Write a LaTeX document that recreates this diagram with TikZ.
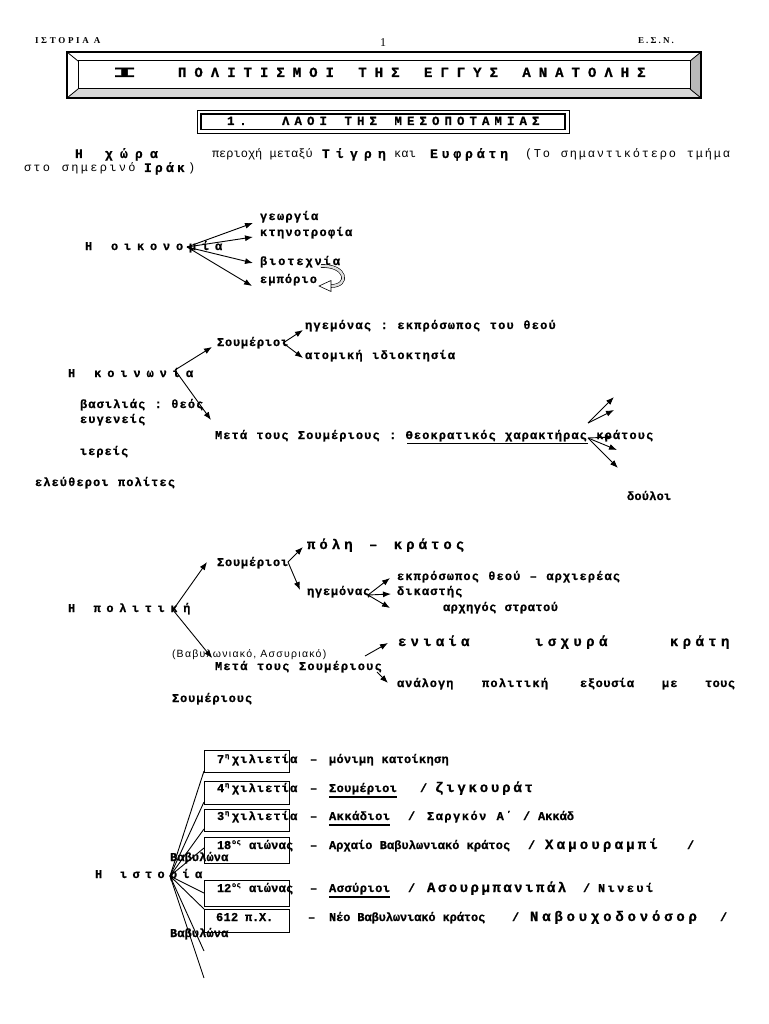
\documentclass[tikz,border=0pt]{standalone}
\usepackage{fontspec}
\usepackage{graphicx}
\setmainfont{Liberation Mono}
\newfontfamily\hserif{Liberation Serif}
\newfontfamily\hsans{Liberation Sans}
\usetikzlibrary{arrows.meta}
\ExplSyntaxOn
\NewDocumentCommand\A{mmm}{
  \fontsize{#1}{#1}\selectfont
  \dim_set:Nn \l_tmpa_dim {#2pt}
  \tl_map_inline:nn {#3} { \makebox[\l_tmpa_dim][l]{##1} }
}
\ExplSyntaxOff
\newcommand\Sup[1]{\raisebox{5pt}{\A{7}{4.6}{#1}}}
\tikzset{
  t/.style={anchor=base west, inner sep=0pt, outer sep=0pt, font={\bfseries\addfontfeature{FakeBold=0.8}}},
  tr/.style={anchor=base west, inner sep=0pt, outer sep=0pt, font=\mdseries},
  arr/.style={-{Latex[length=8pt,width=6pt]}, line width=0.9pt},
  ln/.style={line width=0.9pt},
  ybox/.style={draw, line width=1pt, minimum width=85pt, anchor=north west, inner sep=0pt},
  uline/.style={line width=1.6pt}
}
\begin{document}
\begin{tikzpicture}[x=1pt,y=-1pt]
\useasboundingbox (0,0) rectangle (768,1024);
\fill[white] (0,0) rectangle (768,1024);

% ---------- header ----------
\node[tr, font=\hserif\bfseries] (hdrL) at (35,44) {\fontsize{9}{9}\selectfont\addfontfeature{LetterSpace=30}ΙΣΤΟΡΙΑ Α};
\node[tr, font=\hserif] (hdrN) at (380,47) {\fontsize{12}{12}\selectfont 1};
\node[tr, font=\hserif\bfseries] (hdrR) at (638,44) {\fontsize{9}{9}\selectfont\addfontfeature{LetterSpace=24}Ε.Σ.Ν.};

% ---------- title frame ----------
\fill[gray!30] (67,98) -- (78,89) -- (690,89) -- (701,98) -- cycle;
\fill[gray!55] (701,52) -- (690,61) -- (690,89) -- (701,98) -- cycle;
\draw[line width=1pt] (78,61) rectangle (690,89);
\draw[line width=0.8pt] (67,52) -- (78,61) (701,52) -- (690,61) (67,98) -- (78,89) (701,98) -- (690,89);
\draw[line width=2pt] (67,52) rectangle (701,98);
\node[t] (tI) at (112,77) {\fontsize{14}{14}\selectfont\scalebox{3}[1]{I}};
\node[t] (tT) at (178,77) {\A{14}{16.4}{ΠΟΛΙΤΙΣΜΟΙ~ΤΗΣ~ΕΓΓΥΣ~ΑΝΑΤΟΛΗΣ}};

% ---------- section frame ----------
\draw[line width=0.8pt] (197,110) rectangle (569,133);
\draw[line width=1.6pt] (201,113.8) rectangle (565,129.4);
\node[t] (sN) at (227,125) {\A{12.5}{12.3}{1.}};
\node[t] (sT) at (282,125) {\A{12.5}{12.5}{ΛΑΟΙ~ΤΗΣ~ΜΕΣΟΠΟΤΑΜΙΑΣ}};

% ---------- country ----------
\node[t] (xHora) at (75,158) {\A{13}{15}{Η~χώρα}};
\node[tr] (xPer) at (212,158) {\A{12}{7.2}{περιοχή~μεταξύ}};
\node[t] (xTig) at (322,158) {\A{13}{14}{Τίγρη}};
\node[tr] (xKai) at (394,158) {\A{12}{7.5}{και}};
\node[t] (xEuf) at (430,158) {\A{13}{11.7}{Ευφράτη}};
\node[tr] (xTo) at (525,158) {\A{12}{9}{(Το~σημαντικότερο~τμήμα}};
\node[tr] (xSto) at (24,172) {\A{12}{9.5}{στο~σημερινό}};
\node[t] (xIrak) at (144,172) {\A{13}{11}{Ιράκ}};
\node[tr] (xPar) at (188,172) {\A{12}{7.2}{)}};

% ---------- economy ----------
\node[t] (oik) at (85,250) {\A{12}{13}{Η~οικονομία}};
\node[t] (geo) at (260,220) {\A{12}{8.5}{γεωργία}};
\node[t] (kti) at (260,236) {\A{12}{8.5}{κτηνοτροφία}};
\node[t] (bio) at (260,265) {\A{12}{9.1}{βιοτεχνία}};
\node[t] (emp) at (260,283) {\A{12}{8.3}{εμπόριο}};
\coordinate (eH) at (187,247);
\coordinate (e1) at (253,223);
\coordinate (e2) at (253,237);
\coordinate (e3) at (253,263);
\coordinate (e4) at (252,286);
\foreach \c in {e1,e2,e3,e4} \draw[arr] (eH) -- (\c);
\coordinate (cvA) at (321,266);
\coordinate (cvB) at (331,286);
\draw[line width=0.6pt, double=gray!25, double distance=2.4pt] (cvA) .. controls (347,265) and (350,286) .. (cvB);
\draw[line width=0.6pt, fill=white] (331,280.5) -- (331,291.5) -- (319,286) -- cycle;

% ---------- society ----------
\node[t] (koi) at (68,377) {\A{12}{13.1}{Η~κοινωνία}};
\node[t] (kSum) at (217,346) {\A{12}{8}{Σουμέριοι}};
\node[t] (kHeg) at (305,329) {\A{12}{8.4}{ηγεμόνας~:~εκπρόσωπος~του~θεού}};
\node[t] (kAto) at (305,359) {\A{12}{8.4}{ατομική~ιδιοκτησία}};
\node[t] (kBas) at (80,408) {\A{12}{8.3}{βασιλιάς~:~θεός}};
\node[t] (kEug) at (80,423) {\A{12}{8.3}{ευγενείς}};
\node[t] (kIer) at (80,455) {\A{12}{8.2}{ιερείς}};
\node[t] (kEle) at (35,486) {\A{12}{8.3}{ελεύθεροι~πολίτες}};
\node[t] (kMet) at (215,439) {\A{12}{8.29}{Μετά~τους~Σουμέριους~:~Θεοκρατικός~χαρακτήρας~κράτους}};
\node[t] (kDou) at (627,500) {\A{12}{7.4}{δούλοι}};
\coordinate (ulA) at (407,443.5);
\coordinate (ulB) at (588,443.5);
\draw[uline] (ulA) -- (ulB);
\coordinate (kH) at (175,370);
\coordinate (kS) at (212,347);
\coordinate (kM) at (211,420);
\draw[arr] (kH) -- (kS);
\draw[arr] (kH) -- (kM);
\coordinate (sH) at (283,343);
\coordinate (s1) at (303,330);
\coordinate (s2) at (303,358);
\draw[arr] (sH) -- (s1);
\draw[arr] (sH) -- (s2);
\coordinate (rA) at (588,423);
\coordinate (rA1) at (614,397);
\coordinate (rA2) at (614,410);
\coordinate (rB) at (588,438);
\coordinate (rB1) at (613,437);
\coordinate (rB2) at (617,450);
\coordinate (rB3) at (618,468);
\foreach \c in {rA1,rA2} \draw[arr] (rA) -- (\c);
\foreach \c in {rB1,rB2,rB3} \draw[arr] (rB) -- (\c);

% ---------- politics ----------
\node[t] (pol) at (68,612) {\A{12}{12.8}{Η~πολιτική}};
\node[t] (pSum) at (217,566) {\A{12}{8}{Σουμέριοι}};
\node[t] (pPol) at (307,549) {\A{14}{12.4}{πόλη~–~κράτος}};
\node[t] (pHeg) at (307,595) {\A{12}{8}{ηγεμόνας}};
\node[t] (pEkp) at (397,580) {\A{12}{8.3}{εκπρόσωπος~θεού~–~αρχιερέας}};
\node[t] (pDik) at (397,595) {\A{12}{8.3}{δικαστής}};
\node[t] (pArx) at (443,611) {\A{12}{7.7}{αρχηγός~στρατού}};
\node[tr, font=\hsans] (pBab) at (172,657) {\fontsize{10.5}{10.5}\selectfont\addfontfeature{LetterSpace=12}(Βαβυλωνιακό, Ασσυριακό)};
\node[t] (pMet) at (215,670) {\A{12}{8.4}{Μετά~τους~Σουμέριους}};
\node[t] (pEn1) at (398,646) {\A{14}{12.6}{ενιαία}};
\node[t] (pEn2) at (535,646) {\A{14}{12.8}{ισχυρά}};
\node[t] (pEn3) at (670,646) {\A{14}{12.75}{κράτη}};
\node[t] (pAn1) at (397,687) {\A{12}{8.2}{ανάλογη}};
\node[t] (pAn2) at (482,687) {\A{12}{8.4}{πολιτική}};
\node[t] (pAn3) at (580,687) {\A{12}{7.8}{εξουσία}};
\node[t] (pAn4) at (662,687) {\A{12}{8.3}{με}};
\node[t] (pAn5) at (705,687) {\A{12}{7.6}{τους}};
\node[t] (pSou) at (172,702) {\A{12}{8.1}{Σουμέριους}};
\coordinate (pH) at (173,610);
\coordinate (pS) at (207,562);
\coordinate (pM) at (212,658);
\draw[arr] (pH) -- (pS);
\draw[arr] (pH) -- (pM);
\coordinate (psH) at (288,562);
\coordinate (pp) at (303,547);
\coordinate (pg) at (300,590);
\draw[arr] (psH) -- (pp);
\draw[arr] (psH) -- (pg);
\coordinate (gH) at (368,595);
\coordinate (g1) at (390,578);
\coordinate (g2) at (391,594);
\coordinate (g3) at (390,608);
\foreach \c in {g1,g2,g3} \draw[arr] (gH) -- (\c);
\coordinate (m1a) at (365,656);
\coordinate (m1b) at (388,643);
\coordinate (m2a) at (377,672);
\coordinate (m2b) at (388,683);
\draw[arr] (m1a) -- (m1b);
\draw[arr] (m2a) -- (m2b);

% ---------- history ----------
\node[ybox, minimum height=22pt] (b1) at (204,750) {};
\node[ybox, minimum height=23pt] (b2) at (204,781) {};
\node[ybox, minimum height=22pt] (b3) at (204,809) {};
\node[ybox, minimum height=26pt] (b4) at (204,837) {};
\node[ybox, minimum height=26pt] (b5) at (204,880) {};
\node[ybox, minimum height=23pt] (b6) at (204,909) {};
\coordinate (hH) at (170,876);
\coordinate (h1) at (204,771);
\coordinate (h2) at (204,802);
\coordinate (h3) at (204,829);
\coordinate (h4) at (204,848);
\coordinate (h5) at (204,893);
\coordinate (h6) at (204,909);
\coordinate (h7) at (204,951);
\coordinate (h8) at (204,978);
\foreach \c in {h1,h2,h3,h4,h5,h6,h7,h8} \draw[ln] (hH) -- (\c);
\node[t] (ist) at (95,878) {\A{12}{12.5}{Η~ιστορία}};
\node[t] (bab1) at (170,861) {\A{12}{7.3}{Βαβυλώνα}};
\node[t] (bab2) at (170,937) {\A{12}{7.3}{Βαβυλώνα}};

% row 1
\node[t] (r1a) at (217,763) {\A{12}{7.2}{7}};
\node[t] (r1s) at (225,763) {\Sup{η}};
\node[t] (r1b) at (232,763) {\A{12}{8.3}{χιλιετία}};
\node[t] (r1d) at (310,763) {\A{12}{7.2}{–}};
\node[t] (r1c) at (329,763) {\A{12}{7.5}{μόνιμη~κατοίκηση}};
% row 2
\node[t] (r2a) at (217,792) {\A{12}{7.2}{4}};
\node[t] (r2s) at (225,792) {\Sup{η}};
\node[t] (r2b) at (232,792) {\A{12}{8.3}{χιλιετία}};
\node[t] (r2d) at (310,792) {\A{12}{7.2}{–}};
\node[t] (r2c) at (329,792) {\A{12}{7.6}{Σουμέριοι}};
\node[t] (r2e) at (420,792) {\A{12}{7.2}{/}};
\node[t] (r2f) at (435,792) {\A{14}{11.2}{ζιγκουράτ}};
\draw[line width=1.3pt] (r2c.base west) ++(0,5) -- ++(68,0);
% row 3
\node[t] (r3a) at (217,820) {\A{12}{7.2}{3}};
\node[t] (r3s) at (225,820) {\Sup{η}};
\node[t] (r3b) at (232,820) {\A{12}{8.3}{χιλιετία}};
\node[t] (r3d) at (310,820) {\A{12}{7.2}{–}};
\node[t] (r3c) at (329,820) {\A{12}{7.7}{Ακκάδιοι}};
\node[t] (r3e) at (408,820) {\A{12}{7.2}{/}};
\node[t] (r3f) at (427,820) {\A{12}{8.7}{Σαργκόν~Α΄}};
\node[t] (r3g) at (523,820) {\A{12}{7.2}{/}};
\node[t] (r3h) at (538,820) {\A{12}{7.2}{Ακκάδ}};
\draw[line width=2pt] (r3c.base west) ++(0,5) -- ++(61,0);
% row 4
\node[t] (r4a) at (217,849) {\A{12}{7}{18}};
\node[t] (r4s) at (232,849) {\Sup{ος}};
\node[t] (r4b) at (249,849) {\A{12}{7.4}{αιώνας}};
\node[t] (r4d) at (310,849) {\A{12}{7.2}{–}};
\node[t] (r4c) at (329,849) {\A{12}{7.25}{Αρχαίο~Βαβυλωνιακό~κράτος}};
\node[t] (r4e) at (528,849) {\A{12}{7.2}{/}};
\node[t] (r4f) at (545,849) {\A{14}{11.6}{Χαμουραμπί}};
\node[t] (r4g) at (687,849) {\A{12}{7.2}{/}};
% row 5
\node[t] (r5a) at (217,892) {\A{12}{7}{12}};
\node[t] (r5s) at (232,892) {\Sup{ος}};
\node[t] (r5b) at (249,892) {\A{12}{7.4}{αιώνας}};
\node[t] (r5d) at (310,892) {\A{12}{7.2}{–}};
\node[t] (r5c) at (329,892) {\A{12}{7.7}{Ασσύριοι}};
\node[t] (r5e) at (408,892) {\A{12}{7.2}{/}};
\node[t] (r5f) at (427,892) {\A{14}{10.9}{Ασουρμπανιπάλ}};
\node[t] (r5g) at (583,892) {\A{12}{7.2}{/}};
\node[t] (r5h) at (598,892) {\A{12}{9.6}{Νινευί}};
\draw[line width=1.3pt] (r5c.base west) ++(0,5) -- ++(61,0);
% row 6
\node[t] (r6a) at (216,921) {\A{12}{7.5}{612}};
\node[t] (r6b) at (245,921) {\A{12}{7}{π.Χ.}};
\node[t] (r6d) at (308,921) {\A{12}{7.2}{–}};
\node[t] (r6c) at (329,921) {\A{12}{7.1}{Νέο~Βαβυλωνιακό~κράτος}};
\node[t] (r6e) at (512,921) {\A{12}{7.2}{/}};
\node[t] (r6f) at (530,921) {\A{14}{12.2}{Ναβουχοδονόσορ}};
\node[t] (r6g) at (720,921) {\A{12}{7.2}{/}};
\end{tikzpicture}
\end{document}
